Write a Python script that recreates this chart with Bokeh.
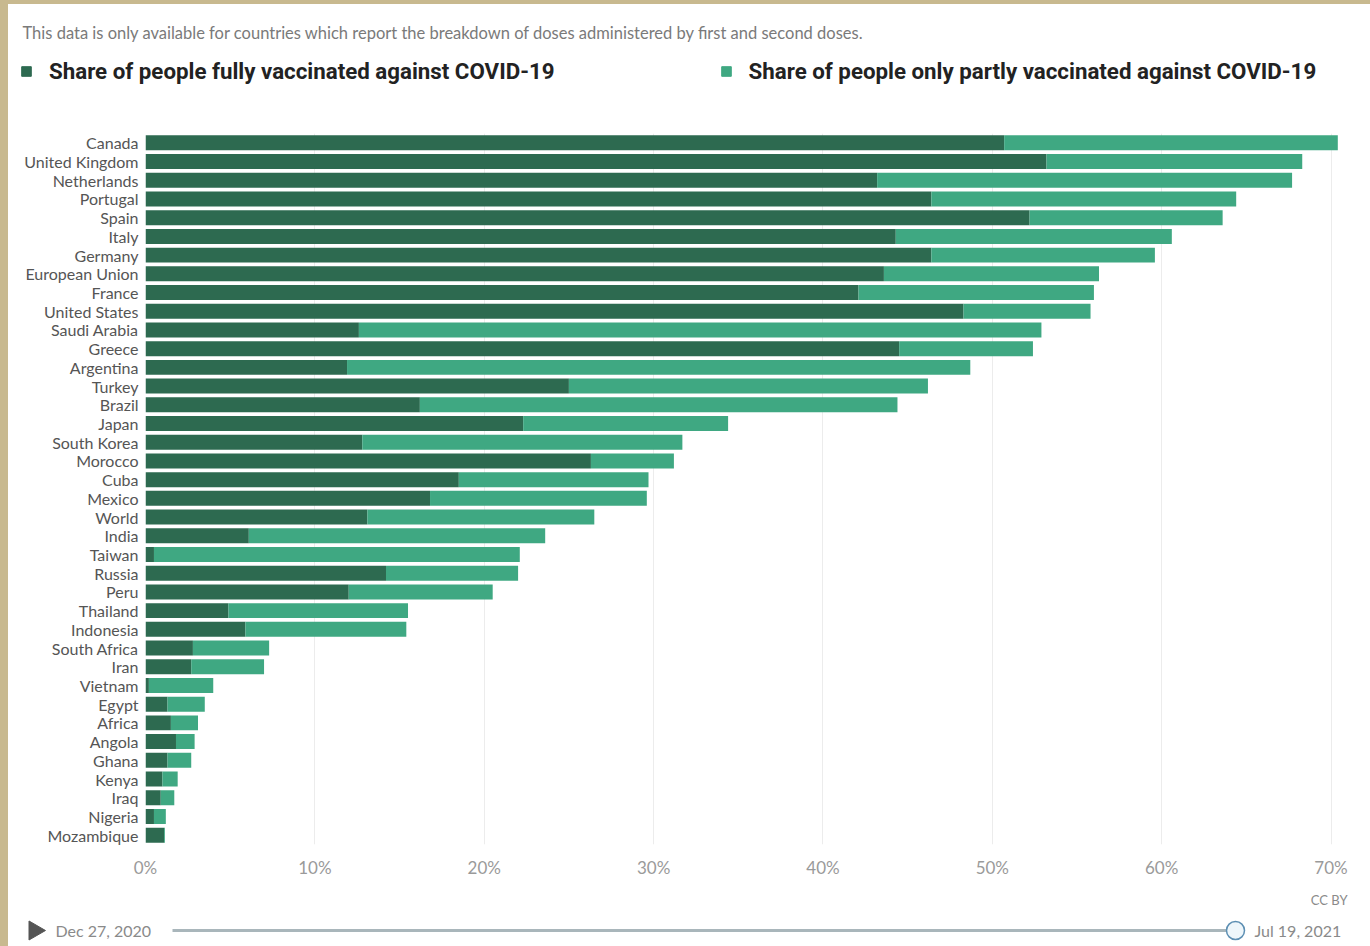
from bokeh.plotting import figure
from bokeh.models import (ColumnDataSource, FactorRange, Range1d, Legend, LegendItem, Spacer,
                          FixedTicker, Label, CustomJSTickFormatter)
from bokeh.layouts import column, row
from bokeh.embed import file_html
from bokeh.resources import INLINE
from bokeh.core.properties import value

countries = ["Canada", "United Kingdom", "Netherlands", "Portugal", "Spain", "Italy", "Germany",
             "European Union", "France", "United States", "Saudi Arabia", "Greece", "Argentina",
             "Turkey", "Brazil", "Japan", "South Korea", "Morocco", "Cuba", "Mexico", "World",
             "India", "Taiwan", "Russia", "Peru", "Thailand", "Indonesia", "South Africa", "Iran",
             "Vietnam", "Egypt", "Africa", "Angola", "Ghana", "Kenya", "Iraq", "Nigeria", "Mozambique"]
fully = [50.7, 53.2, 43.2, 46.4, 52.2, 44.3, 46.4, 43.6, 42.1, 48.3, 12.6, 44.5, 11.9, 25.0, 16.2,
         22.3, 12.8, 26.3, 18.5, 16.8, 13.1, 6.1, 0.5, 14.2, 12.0, 4.9, 5.9, 2.8, 2.7, 0.2, 1.3,
         1.5, 1.8, 1.3, 1.0, 0.9, 0.5, 1.1]
partly = [19.7, 15.1, 24.5, 18.0, 11.4, 16.3, 13.2, 12.7, 13.9, 7.5, 40.3, 7.9, 36.8, 21.2, 28.2,
          12.1, 18.9, 4.9, 11.2, 12.8, 13.4, 17.5, 21.6, 7.8, 8.5, 10.6, 9.5, 4.5, 4.3, 3.8, 2.2,
          1.6, 1.1, 1.4, 0.9, 0.8, 0.7, 0.05]
x_ticks = [0, 10, 20, 30, 40, 50, 60, 70]
series_labels = ["Share of people fully vaccinated against COVID-19",
                 "Share of people only partly vaccinated against COVID-19"]
subtitle = "This data is only available for countries which report the breakdown of doses administered by first and second doses."
start_date = "Dec 27, 2020"
end_date = "Jul 19, 2021"
credit = "CC BY"

DARK = "#2d6a50"
LIGHT = "#3fa882"
TAN = "#c8b98f"
FONT = "Lato"


def blank(fig):
    fig.axis.visible = False
    fig.grid.visible = False
    fig.outline_line_color = None
    fig.border_fill_color = "white"
    fig.background_fill_color = "white"


# ---------------- header (page y 4..104) ----------------
h = figure(width=1362, height=100, x_range=Range1d(8, 1370), y_range=Range1d(104, 4),
           output_backend="svg", toolbar_location=None, min_border=0)
blank(h)
h.add_layout(Label(x=22, y=32, text=subtitle, text_font=FONT, text_font_size="16.5px",
                   text_color="#7a7a7a", text_baseline="middle"))
# legend swatch renderers (kept outside the visible area; only their legend swatch shows)
sw_full = h.quad(left=[-60], right=[-50], top=[-60], bottom=[-50], color=DARK)
sw_part = h.quad(left=[-60], right=[-50], top=[-60], bottom=[-50], color=LIGHT)
legend = Legend(items=[LegendItem(label=series_labels[0], renderers=[sw_full]),
                       LegendItem(label=series_labels[1], renderers=[sw_part])],
                orientation="horizontal", location=(12, 20),
                glyph_width=12, glyph_height=12, label_standoff=17, spacing=165,
                padding=0, margin=0, border_line_color=None, background_fill_alpha=0,
                label_text_font="Roboto", label_text_font_style="bold",
                label_text_font_size="22.3px", label_text_color="#222222")
h.add_layout(legend, "center")

# ---------------- main chart (page y 104..880) ----------------
source = ColumnDataSource(dict(country=countries, fully=fully, partly=partly))
p = figure(width=1362, height=776, y_range=FactorRange(*reversed(countries)),
           x_range=Range1d(0, 70.5), output_backend="svg", toolbar_location=None,
           min_border_left=137, min_border_right=31, min_border_top=29, min_border_bottom=34)
p.outline_line_color = None
p.background_fill_color = "white"
p.border_fill_color = "white"

rs = p.hbar_stack(["fully", "partly"], y="country", height=0.8, color=[DARK, LIGHT],
                  line_color=None, source=source)

p.xaxis.ticker = FixedTicker(ticks=x_ticks)
p.xaxis.formatter = CustomJSTickFormatter(code="return tick + '%'")
for ax in (p.xaxis[0], p.yaxis[0]):
    ax.axis_line_color = None
    ax.major_tick_line_color = None
    ax.minor_tick_line_color = None
    ax.major_tick_out = 0
    ax.major_tick_in = 0
    ax.major_label_text_font = FONT
p.xaxis.major_label_text_font_size = "17px"
p.xaxis.major_label_text_color = "#9a9a9a"
p.xaxis.major_label_standoff = 12
p.yaxis.major_label_text_font_size = "16px"
p.yaxis.major_label_text_color = "#555555"
p.yaxis.major_label_standoff = 7
p.ygrid.grid_line_color = None
p.xgrid.grid_line_color = "#ececec"
p.xgrid.grid_line_width = 1

# ---------------- footer / timeline (page y 880..946) ----------------
b = figure(width=1362, height=66, x_range=Range1d(8, 1370), y_range=Range1d(946, 880),
           output_backend="svg", toolbar_location=None, min_border=0)
blank(b)
b.scatter([34], [930], marker="triangle", size=19, angle=-1.5708, color="#555555")
b.text([55], [930], text=[start_date], text_font=value(FONT), text_font_size="16px",
       text_color="#8a8a8a", text_baseline="middle")
b.segment([172], [930], [1227], [930], line_color="#a9b6bb", line_width=3)
b.scatter([1235], [930], size=18, fill_color="#eef6fb", line_color="#5d8fb3", line_width=1.5)
b.text([1254], [930], text=[end_date], text_font=value(FONT), text_font_size="16px",
       text_color="#8a8a8a", text_baseline="middle")
b.text([1347], [899], text=[credit], text_font=value(FONT), text_font_size="13px",
       text_color="#8a8a8a", text_baseline="middle", text_align="right")

top_strip = Spacer(width=1370, height=4, styles={"background-color": TAN})
roots = [
    column(top_strip, row(Spacer(width=8, height=100, styles={"background-color": TAN}), h)),
    row(Spacer(width=8, height=776, styles={"background-color": TAN}), p),
    row(Spacer(width=8, height=66, styles={"background-color": TAN}), b),
]

open("out.html", "w").write(file_html(roots, INLINE))
